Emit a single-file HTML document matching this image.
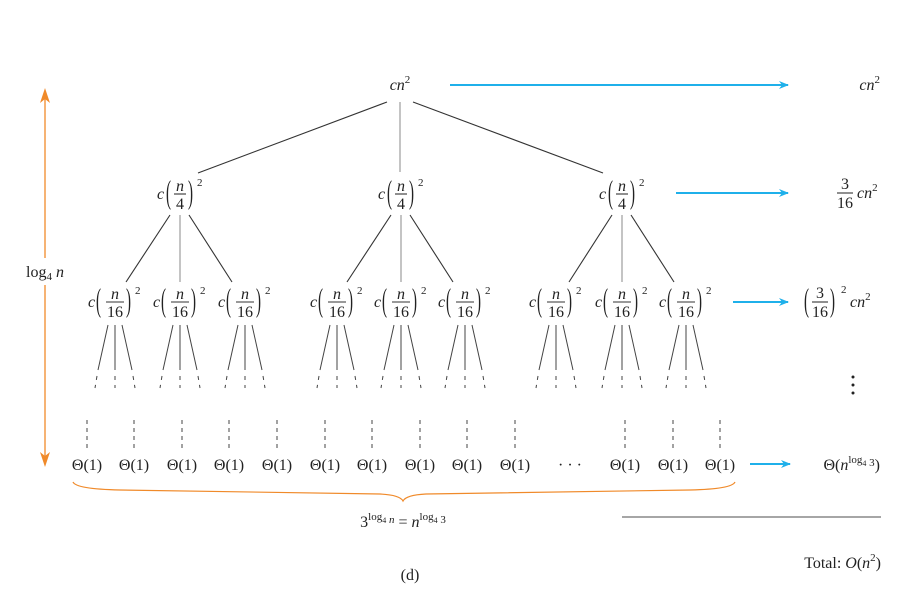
<!DOCTYPE html><html><head><meta charset="utf-8"><style>
body{margin:0;background:#fff}
svg{font-family:"Liberation Serif",serif;fill:#222}
.i{font-style:italic}
.l{stroke:#333;stroke-width:1.1}
.g{stroke:#888;stroke-width:1}
.b{stroke:#1fb0ea;stroke-width:2}
</style></head><body>
<svg width="907" height="590" viewBox="0 0 907 590" font-size="16">
<defs>
<marker id="ab" markerWidth="10" markerHeight="8" refX="9" refY="4" orient="auto" markerUnits="userSpaceOnUse"><path d="M0,0 L10,4 L0,8 L3,4z" fill="#1fb0ea"/></marker>
</defs>
<!-- root -->
<text x="400" y="90" class="i" text-anchor="middle">cn<tspan font-size="11" dy="-7" font-style="normal">2</tspan></text>
<line class="l" x1="387" y1="102" x2="198" y2="173"/>
<line class="g" x1="400" y1="102" x2="400" y2="172"/>
<line class="l" x1="413" y1="102" x2="603" y2="173"/>
<line class="b" x1="450" y1="85" x2="788" y2="85" marker-end="url(#ab)"/>
<text x="880" y="90" class="i" text-anchor="end">cn<tspan font-size="11" dy="-7" font-style="normal">2</tspan></text>

<!-- level 1 -->
<g transform="translate(180,194)"><text x="-23" y="5" class="i">c</text><text transform="translate(-14,9) scale(1,2.2)" font-size="15">(</text><text x="0" y="-3" class="i" text-anchor="middle">n</text><line class="l" x1="-6" x2="6" y1="0" y2="0"/><text x="0" y="15" text-anchor="middle">4</text><text transform="translate(8,9) scale(1,2.2)" font-size="15">)</text><text x="17" y="-8" font-size="11">2</text></g>
<g transform="translate(401,194)"><text x="-23" y="5" class="i">c</text><text transform="translate(-14,9) scale(1,2.2)" font-size="15">(</text><text x="0" y="-3" class="i" text-anchor="middle">n</text><line class="l" x1="-6" x2="6" y1="0" y2="0"/><text x="0" y="15" text-anchor="middle">4</text><text transform="translate(8,9) scale(1,2.2)" font-size="15">)</text><text x="17" y="-8" font-size="11">2</text></g>
<g transform="translate(622,194)"><text x="-23" y="5" class="i">c</text><text transform="translate(-14,9) scale(1,2.2)" font-size="15">(</text><text x="0" y="-3" class="i" text-anchor="middle">n</text><line class="l" x1="-6" x2="6" y1="0" y2="0"/><text x="0" y="15" text-anchor="middle">4</text><text transform="translate(8,9) scale(1,2.2)" font-size="15">)</text><text x="17" y="-8" font-size="11">2</text></g>
<line class="b" x1="676" y1="193" x2="788" y2="193" marker-end="url(#ab)"/>
<g transform="translate(845,193)"><text x="0" y="-4" text-anchor="middle">3</text><line class="l" x1="-8" x2="8" y1="0" y2="0"/><text x="0" y="15" text-anchor="middle">16</text><text x="12" y="5" class="i">cn<tspan font-size="11" dy="-7" font-style="normal">2</tspan></text></g>

<!-- level1 -> level2 lines -->
<g>
<line class="l" x1="170" y1="215" x2="126" y2="282"/><line class="g" x1="180" y1="215" x2="180" y2="282"/><line class="l" x1="189" y1="215" x2="232" y2="282"/>
<line class="l" x1="391" y1="215" x2="347" y2="282"/><line class="g" x1="401" y1="215" x2="401" y2="282"/><line class="l" x1="410" y1="215" x2="453" y2="282"/>
<line class="l" x1="612" y1="215" x2="569" y2="282"/><line class="g" x1="622" y1="215" x2="622" y2="282"/><line class="l" x1="631" y1="215" x2="674" y2="282"/>
</g>

<!-- level 2 -->
<g transform="translate(115,302)"><text x="-27" y="5" class="i">c</text><text transform="translate(-19,9) scale(1,2.2)" font-size="15">(</text><text x="0" y="-3" class="i" text-anchor="middle">n</text><line class="l" x1="-9" x2="9" y1="0" y2="0"/><text x="0" y="15" text-anchor="middle">16</text><text transform="translate(11,9) scale(1,2.2)" font-size="15">)</text><text x="20" y="-8" font-size="11">2</text></g>
<g transform="translate(180,302)"><text x="-27" y="5" class="i">c</text><text transform="translate(-19,9) scale(1,2.2)" font-size="15">(</text><text x="0" y="-3" class="i" text-anchor="middle">n</text><line class="l" x1="-9" x2="9" y1="0" y2="0"/><text x="0" y="15" text-anchor="middle">16</text><text transform="translate(11,9) scale(1,2.2)" font-size="15">)</text><text x="20" y="-8" font-size="11">2</text></g>
<g transform="translate(245,302)"><text x="-27" y="5" class="i">c</text><text transform="translate(-19,9) scale(1,2.2)" font-size="15">(</text><text x="0" y="-3" class="i" text-anchor="middle">n</text><line class="l" x1="-9" x2="9" y1="0" y2="0"/><text x="0" y="15" text-anchor="middle">16</text><text transform="translate(11,9) scale(1,2.2)" font-size="15">)</text><text x="20" y="-8" font-size="11">2</text></g>
<g transform="translate(337,302)"><text x="-27" y="5" class="i">c</text><text transform="translate(-19,9) scale(1,2.2)" font-size="15">(</text><text x="0" y="-3" class="i" text-anchor="middle">n</text><line class="l" x1="-9" x2="9" y1="0" y2="0"/><text x="0" y="15" text-anchor="middle">16</text><text transform="translate(11,9) scale(1,2.2)" font-size="15">)</text><text x="20" y="-8" font-size="11">2</text></g>
<g transform="translate(401,302)"><text x="-27" y="5" class="i">c</text><text transform="translate(-19,9) scale(1,2.2)" font-size="15">(</text><text x="0" y="-3" class="i" text-anchor="middle">n</text><line class="l" x1="-9" x2="9" y1="0" y2="0"/><text x="0" y="15" text-anchor="middle">16</text><text transform="translate(11,9) scale(1,2.2)" font-size="15">)</text><text x="20" y="-8" font-size="11">2</text></g>
<g transform="translate(465,302)"><text x="-27" y="5" class="i">c</text><text transform="translate(-19,9) scale(1,2.2)" font-size="15">(</text><text x="0" y="-3" class="i" text-anchor="middle">n</text><line class="l" x1="-9" x2="9" y1="0" y2="0"/><text x="0" y="15" text-anchor="middle">16</text><text transform="translate(11,9) scale(1,2.2)" font-size="15">)</text><text x="20" y="-8" font-size="11">2</text></g>
<g transform="translate(556,302)"><text x="-27" y="5" class="i">c</text><text transform="translate(-19,9) scale(1,2.2)" font-size="15">(</text><text x="0" y="-3" class="i" text-anchor="middle">n</text><line class="l" x1="-9" x2="9" y1="0" y2="0"/><text x="0" y="15" text-anchor="middle">16</text><text transform="translate(11,9) scale(1,2.2)" font-size="15">)</text><text x="20" y="-8" font-size="11">2</text></g>
<g transform="translate(622,302)"><text x="-27" y="5" class="i">c</text><text transform="translate(-19,9) scale(1,2.2)" font-size="15">(</text><text x="0" y="-3" class="i" text-anchor="middle">n</text><line class="l" x1="-9" x2="9" y1="0" y2="0"/><text x="0" y="15" text-anchor="middle">16</text><text transform="translate(11,9) scale(1,2.2)" font-size="15">)</text><text x="20" y="-8" font-size="11">2</text></g>
<g transform="translate(686,302)"><text x="-27" y="5" class="i">c</text><text transform="translate(-19,9) scale(1,2.2)" font-size="15">(</text><text x="0" y="-3" class="i" text-anchor="middle">n</text><line class="l" x1="-9" x2="9" y1="0" y2="0"/><text x="0" y="15" text-anchor="middle">16</text><text transform="translate(11,9) scale(1,2.2)" font-size="15">)</text><text x="20" y="-8" font-size="11">2</text></g>
<line class="b" x1="733" y1="302" x2="788" y2="302" marker-end="url(#ab)"/>
<g transform="translate(820,302)"><text transform="translate(-16,9) scale(1,2.2)" font-size="15">(</text><text x="0" y="-4" text-anchor="middle">3</text><line class="l" x1="-8" x2="8" y1="0" y2="0"/><text x="0" y="15" text-anchor="middle">16</text><text transform="translate(10,9) scale(1,2.2)" font-size="15">)</text><text x="21" y="-9" font-size="11">2</text><text x="30" y="5" class="i">cn<tspan font-size="11" dy="-7" font-style="normal">2</tspan></text></g>

<!-- level2 downward lines -->
<g stroke="#444" stroke-width="1" fill="none">
<path d="M108,325L98,370M115,325L115,370M122,325L132,370 M173,325L163,370M180,325L180,370M187,325L197,370 M238,325L228,370M245,325L245,370M252,325L262,370 M330,325L320,370M337,325L337,370M344,325L354,370 M394,325L384,370M401,325L401,370M408,325L418,370 M458,325L448,370M465,325L465,370M472,325L482,370 M549,325L539,370M556,325L556,370M563,325L573,370 M615,325L605,370M622,325L622,370M629,325L639,370 M679,325L669,370M686,325L686,370M693,325L703,370"/>
<path stroke-dasharray="4,5" d="M97,376L95,388M115,376L115,388M133,376L135,388 M162,376L160,388M180,376L180,388M198,376L200,388 M227,376L225,388M245,376L245,388M263,376L265,388 M319,376L317,388M337,376L337,388M355,376L357,388 M383,376L381,388M401,376L401,388M419,376L421,388 M447,376L445,388M465,376L465,388M483,376L485,388 M538,376L536,388M556,376L556,388M574,376L576,388 M604,376L602,388M622,376L622,388M640,376L642,388 M668,376L666,388M686,376L686,388M704,376L706,388"/>
<path stroke-dasharray="4,4" d="M87,420V452M134,420V452M182,420V452M229,420V452M277,420V452M325,420V452M372,420V452M420,420V452M467,420V452M515,420V452M625,420V452M673,420V452M720,420V452"/>
</g>
<g fill="#222"><circle cx="853" cy="377" r="1.5"/><circle cx="853" cy="385" r="1.5"/><circle cx="853" cy="393" r="1.5"/></g>

<!-- leaves -->
<g text-anchor="middle">
<text x="87" y="470">Θ(1)</text><text x="134" y="470">Θ(1)</text><text x="182" y="470">Θ(1)</text><text x="229" y="470">Θ(1)</text><text x="277" y="470">Θ(1)</text><text x="325" y="470">Θ(1)</text><text x="372" y="470">Θ(1)</text><text x="420" y="470">Θ(1)</text><text x="467" y="470">Θ(1)</text><text x="515" y="470">Θ(1)</text><text x="570" y="470">· · ·</text><text x="625" y="470">Θ(1)</text><text x="673" y="470">Θ(1)</text><text x="720" y="470">Θ(1)</text>
</g>
<line class="b" x1="750" y1="464" x2="790" y2="464" marker-end="url(#ab)"/>
<text x="880" y="470" text-anchor="end">Θ(<tspan class="i">n</tspan><tspan font-size="11" dy="-7">log<tspan font-size="8" dy="3">4</tspan> 3</tspan><tspan dy="4">)</tspan></text>

<!-- brace -->
<path d="M73,482 Q76,489 120,490 L380,494 Q400,495 403,501 Q406,495 426,494 L690,490 Q732,489 735,482" fill="none" stroke="#f08a2a" stroke-width="1.2"/>
<text x="403" y="527" text-anchor="middle">3<tspan font-size="11" dy="-7">log<tspan font-size="8" dy="3">4</tspan> <tspan class="i">n</tspan></tspan><tspan dy="4"> = </tspan><tspan class="i">n</tspan><tspan font-size="11" dy="-7">log<tspan font-size="8" dy="3">4</tspan> 3</tspan></text>

<!-- left arrow -->
<line x1="45" y1="92" x2="45" y2="258" stroke="#f08a2a" stroke-width="1.3"/>
<line x1="45" y1="285" x2="45" y2="464" stroke="#f08a2a" stroke-width="1.3"/>
<path d="M40,103 L45,88 L50,103 L45,99z" fill="#f08a2a"/>
<path d="M40,452 L45,467 L50,452 L45,456z" fill="#f08a2a"/>
<text x="45" y="277" text-anchor="middle">log<tspan font-size="11" dy="3">4</tspan><tspan dy="-3" class="i"> n</tspan></text>

<line x1="622" y1="517" x2="881" y2="517" stroke="#888" stroke-width="1.5"/>
<text x="881" y="568" text-anchor="end">Total: <tspan class="i">O</tspan>(<tspan class="i">n</tspan><tspan font-size="11" dy="-7">2</tspan><tspan dy="7">)</tspan></text>
<text x="410" y="580" text-anchor="middle">(d)</text>
</svg>
</body></html>
